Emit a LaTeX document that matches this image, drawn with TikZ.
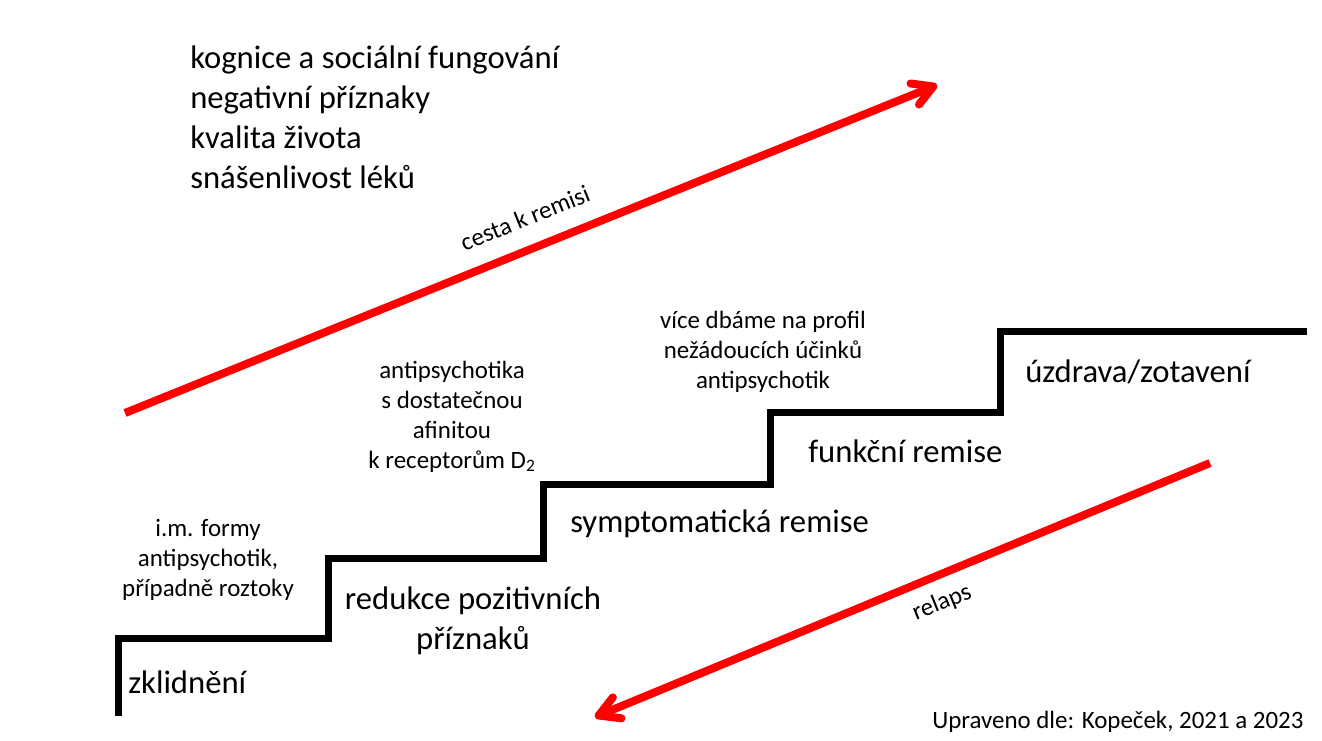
\documentclass[tikz,border=0pt]{standalone}
\usepackage{fontspec}
\setmainfont{Carlito}
\usetikzlibrary{arrows.meta}
\begin{document}
\begin{tikzpicture}[x=0.75pt,y=-0.75pt,
  big/.style={font=\fontsize{24.5}{30}\selectfont, inner sep=0pt},
  small/.style={font=\fontsize{18.7}{22.5}\selectfont, inner sep=0pt},
  stair/.style={line width=5.25pt, line join=miter, line cap=butt},
  redarrow/.style={draw=red, line width=6pt, -{Straight Barb[round,length=15pt,width=17pt]}}]
\useasboundingbox (0,0) rectangle (1322,740);
\fill[white] (0,0) rectangle (1322,740);
% staircase
\draw[stair] (118,716) -- (118,638) -- (328,638) -- (328,558) -- (543,558) -- (543,484)
  -- (770,484) -- (770,412) -- (1000,412) -- (1000,331) -- (1307,331);
% arrows
\coordinate (upS) at (125,413);
\coordinate (upE) at (937,85);
\coordinate (dnS) at (1210,463);
\coordinate (dnE) at (595,717);
\draw[redarrow] (upS) -- (upE);
\draw[redarrow] (dnS) -- (dnE);
\node[small, rotate=22] (cesta) at (525,218) {cesta k remisi};
\node[small, rotate=22] (relaps) at (942,603) {relaps};
% top list
\node[big, anchor=base west, align=left] (list) at (190,188)
  {kognice a sociální fungování\\negativní příznaky\\kvalita života\\snášenlivost léků};
% step labels
\node[big, anchor=base west] (zkl) at (128,693) {zklidnění};
\node[big, anchor=base, align=center] (red) at (473,649) {redukce pozitivních\\příznaků};
\node[big, anchor=base west] (sym) at (570,532) {symptomatická remise};
\node[big, anchor=base west] (fun) at (808,462) {funkční remise};
\node[big, anchor=base west] (uzd) at (1025,382) {úzdrava/zotavení};
% notes
\node[small, anchor=base, align=center] (im) at (208,596)
  {i.m. formy\\antipsychotik,\\případně roztoky};
\node[small, anchor=base, align=center] (ap) at (452,468)
  {antipsychotika\\s dostatečnou\\afinitou\\k receptorům D\textsubscript{2}};
\node[small, anchor=base, align=center] (vice) at (763,388)
  {více dbáme na profil\\nežádoucích účinků\\antipsychotik};
\node[small, anchor=base west] (src) at (932,728) {Upraveno dle: Kopeček, 2021 a 2023};
\end{tikzpicture}
\end{document}
